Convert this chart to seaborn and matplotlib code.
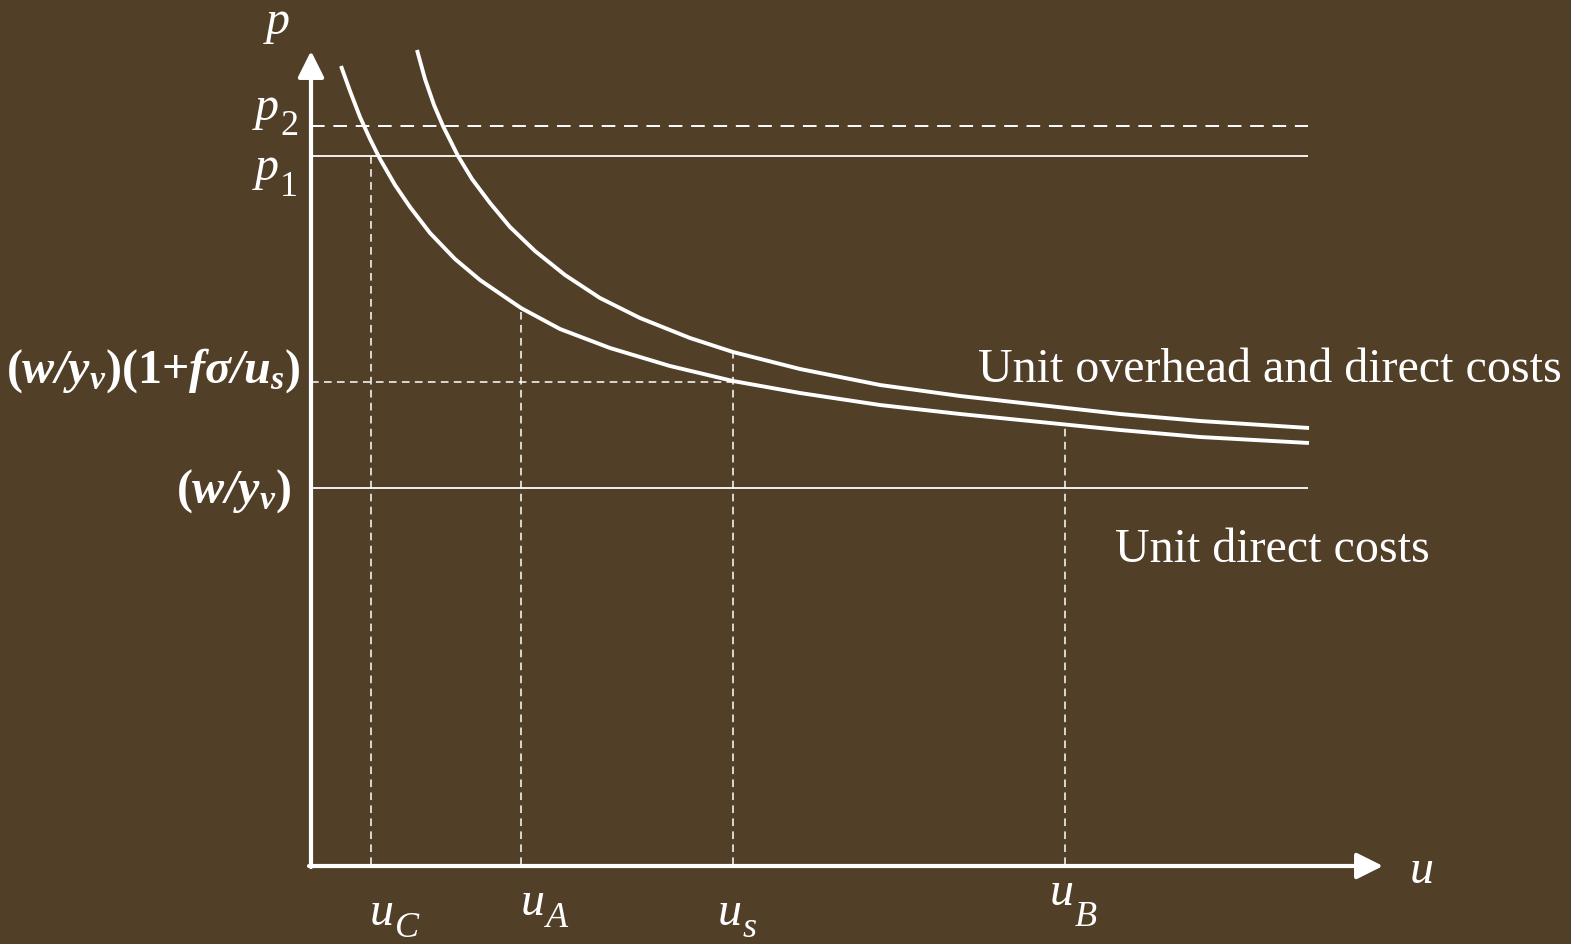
import matplotlib
matplotlib.use('Agg')
import matplotlib.pyplot as plt
import seaborn as sns
import pandas as pd
import numpy as np

# values (u to the right, p upward)
lower_u = [0.30, 0.39, 0.49, 0.59, 0.69, 0.84, 0.99, 1.19, 1.44, 1.69, 2.10, 2.49, 2.99, 3.59,
           4.22, 4.89, 5.69, 6.49, 7.29, 8.09, 8.89, 9.98]
lower_p = [7.99, 7.74, 7.48, 7.26, 7.06, 6.80, 6.58, 6.32, 6.06, 5.85, 5.57, 5.36, 5.17, 4.99,
           4.84, 4.72, 4.60, 4.51, 4.43, 4.35, 4.28, 4.22]
upper_u = [1.06, 1.14, 1.23, 1.32, 1.47, 1.61, 1.79, 1.99, 2.24, 2.54, 2.89, 3.29, 3.79,
           4.22, 4.89, 5.69, 6.49, 7.29, 8.09, 8.89, 9.98]
upper_p = [8.15, 7.86, 7.60, 7.39, 7.09, 6.86, 6.62, 6.38, 6.14, 5.90, 5.67, 5.47, 5.27,
           5.13, 4.96, 4.80, 4.69, 4.60, 4.51, 4.44, 4.37]

p2 = 7.39
p1 = 7.09
direct = 3.77
overhead_s = 4.83
u_end = 9.97

u_marks = [0.60, 2.10, 4.22, 7.54]           # uC, uA, us, uB
u_mark_tops = [7.09, 5.56, 5.13, 4.39]

# label, subscript, anchor x, main baseline, subscript baseline
sub_labels = [
    ('p', '2', -0.32, 7.46, 7.31),
    ('p', '1', -0.32, 6.86, 6.70),
    ('u', 'C', 0.83, -0.59, -0.71),
    ('u', 'A', 2.34, -0.49, -0.61),
    ('u', 's', 4.31, -0.59, -0.71),
    ('u', 'B', 7.63, -0.39, -0.60),
]

bg = '#523f28'
fg = 'white'

sns.set_style('white', {'axes.facecolor': bg, 'figure.facecolor': bg})
plt.rcParams['font.family'] = ['Liberation Serif', 'DejaVu Serif']
plt.rcParams['mathtext.fontset'] = 'custom'
plt.rcParams['mathtext.rm'] = 'Liberation Serif'
plt.rcParams['mathtext.it'] = 'Liberation Serif:italic'
plt.rcParams['mathtext.bf'] = 'Liberation Serif:bold'
plt.rcParams['mathtext.bfit'] = 'Liberation Serif:bold:italic'

fig = plt.figure(figsize=(15.71, 9.45), dpi=100, facecolor=bg)
ax = fig.add_axes([0, 0, 1, 1])
ax.set_facecolor(bg)
ax.set_xlim(-3.11, 12.60)
ax.set_ylim(-0.79, 8.66)
ax.axis('off')

curves = pd.DataFrame({
    'u': lower_u + upper_u,
    'p': lower_p + upper_p,
    'curve': ['lower'] * len(lower_u) + ['upper'] * len(upper_u),
})
sns.lineplot(data=curves, x='u', y='p', units='curve', estimator=None, sort=False,
             color=fg, lw=2.8, ax=ax, solid_capstyle='butt', solid_joinstyle='round', legend=False)

# horizontal levels
ax.hlines(p2, 0, u_end, color=fg, lw=1.4, linestyles=(0, (7, 4.5)))
ax.hlines([p1, direct], 0, u_end, color=fg, lw=1.3)
ax.hlines(overhead_s, 0, u_marks[2], color=fg, lw=1.1, linestyles=(0, (5, 3.5)))

# vertical guides
for um, top in zip(u_marks, u_mark_tops):
    ax.vlines(um, 0, top, color=fg, lw=1.1, linestyles=(0, (5, 3.5)))

# axes with arrows
arrow = dict(arrowstyle='-|>', lw=3, color=fg, mutation_scale=40, shrinkA=0, shrinkB=0)
ax.annotate('', xy=(0, 8.14), xytext=(0, -0.02), arrowprops=arrow)
ax.annotate('', xy=(10.72, -0.01), xytext=(-0.02, -0.01), arrowprops=arrow)

fs = 34.6
sub_fs = 26
ax.text(-0.33, 8.44, 'p', color=fg, fontsize=fs, style='italic', ha='center', va='center')
ax.text(11.11, -0.05, 'u', color=fg, fontsize=fs, style='italic', ha='center', va='center')
for main, sub, x, yb, ys in sub_labels:
    ax.text(x, yb, main, color=fg, fontsize=fs, style='italic', ha='right', va='baseline')
    ax.text(x + 0.01, ys, sub, color=fg, fontsize=sub_fs, ha='left', va='baseline',
            style='normal' if sub.isdigit() else 'italic')

ax.text(-0.10, overhead_s + 0.12, r'$\mathbf{(}\mathbfit{w/y_v}\mathbf{)(1{+}}\mathbfit{f\sigma/u_s}\mathbf{)}$',
        color=fg, fontsize=fs, ha='right', va='center')
ax.text(-0.20, direct - 0.02, r'$\mathbf{(}\mathbfit{w/y_v}\mathbf{)}$',
        color=fg, fontsize=fs, ha='right', va='center')

ax.text(6.67, 4.84, 'Unit overhead and direct costs', color=fg, fontsize=fs, ha='left', va='baseline')
ax.text(8.04, 3.04, 'Unit direct costs', color=fg, fontsize=fs, ha='left', va='baseline')

fig.savefig('out.png', dpi=100, facecolor=bg)
